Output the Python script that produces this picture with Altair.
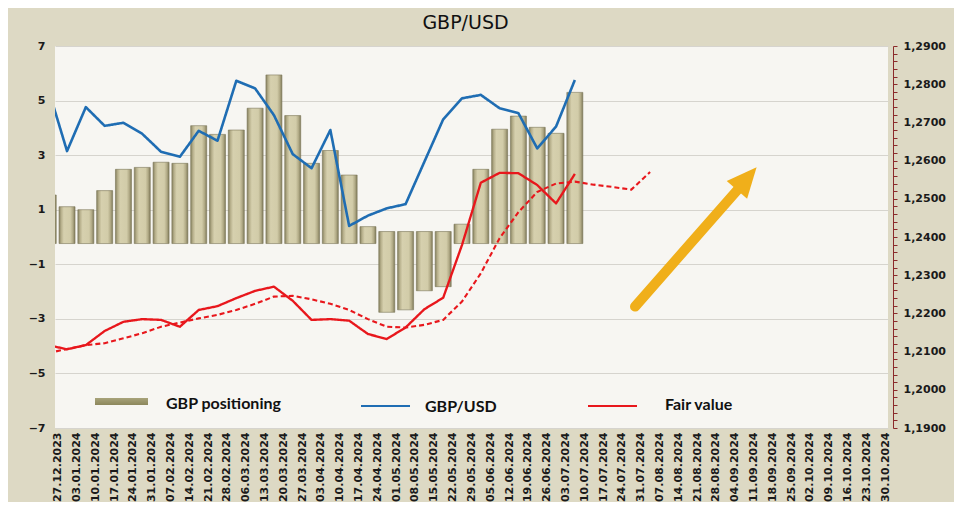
import json
import altair as alt
import pandas as pd

# ---------------- data ----------------
dates = ["27.12.2023", "03.01.2024", "10.01.2024", "17.01.2024", "24.01.2024", "31.01.2024",
         "07.02.2024", "14.02.2024", "21.02.2024", "28.02.2024", "06.03.2024", "13.03.2024",
         "20.03.2024", "27.03.2024", "03.04.2024", "10.04.2024", "17.04.2024", "24.04.2024",
         "01.05.2024", "08.05.2024", "15.05.2024", "22.05.2024", "29.05.2024", "05.06.2024",
         "12.06.2024", "19.06.2024", "26.06.2024", "03.07.2024", "10.07.2024", "17.07.2024",
         "24.07.2024", "31.07.2024", "07.08.2024", "14.08.2024", "21.08.2024", "28.08.2024",
         "04.09.2024", "11.09.2024", "18.09.2024", "25.09.2024", "02.10.2024", "09.10.2024",
         "16.10.2024", "23.10.2024", "30.10.2024"]

positioning = [1.54, 1.11, 1.00, 1.70, 2.48, 2.55, 2.74, 2.70, 4.08, 3.76, 3.92, 4.72, 5.94,
               4.45, 2.70, 3.17, 2.27, 0.38, -2.76, -2.67, -1.97, -1.82, 0.47, 2.48, 3.95,
               4.43, 4.02, 3.80, 5.30]

gbpusd = [1.2788, 1.2625, 1.2740, 1.2691, 1.2699, 1.2670, 1.2623, 1.2610, 1.2678, 1.2652,
          1.2809, 1.2789, 1.2719, 1.2617, 1.2580, 1.2680, 1.2429, 1.2456, 1.2475, 1.2486,
          1.2597, 1.2708, 1.2763, 1.2772, 1.2737, 1.2724, 1.2632, 1.2689, 1.2811]

fair_value = [1.2117, 1.2106, 1.2117, 1.2154, 1.2178, 1.2185, 1.2183, 1.2165, 1.2209, 1.2219,
              1.2240, 1.2259, 1.2270, 1.2233, 1.2183, 1.2185, 1.2181, 1.2146, 1.2133, 1.2163,
              1.2211, 1.2241, 1.2379, 1.2542, 1.2568, 1.2567, 1.2536, 1.2488, 1.2565]

fair_value_trend = [1.2096, 1.2107, 1.2117, 1.2122, 1.2135, 1.2148, 1.2165, 1.2176, 1.2187,
                    1.2196, 1.2209, 1.2225, 1.2244, 1.2246, 1.2237, 1.2225, 1.2209, 1.2185,
                    1.2165, 1.2163, 1.2170, 1.2183, 1.2231, 1.2305, 1.2397, 1.2465, 1.2518,
                    1.2540, 1.2545, 1.2537, 1.2531, 1.2524, 1.2570]

left_ticks = [-7, -5, -3, -1, 1, 3, 5, 7]
right_ticks = [1.19, 1.20, 1.21, 1.22, 1.23, 1.24, 1.25, 1.26, 1.27, 1.28, 1.29]
right_minor_step = 0.002

# annotation arrow (category index / left-axis value)
arrow_x = [31.2, 36.83]
arrow_y = [-2.55, 1.87]
arrow_head = [37.14, 2.14]

legend_labels = ["GBP positioning", "GBP/USD", "Fair value"]
title_text = "GBP/USD"

# ---------------- tables ----------------
bars_df = pd.DataFrame({"k": list(range(len(positioning))), "value": positioning})

series_names = ["GBP/USD", "Fair value", "Fair value trend"]
rows = []
for name, vals in zip(series_names, [gbpusd, fair_value, fair_value_trend]):
    for i, v in enumerate(vals):
        rows.append({"series": name, "k": i, "price": v})
lines_df = pd.DataFrame(rows)

arrow_df = pd.DataFrame({"k": [arrow_x[0]], "k2": [arrow_x[1]],
                         "y1": [arrow_y[0]], "y2": [arrow_y[1]]})
head_df = pd.DataFrame({"k": [arrow_head[0]], "y": [arrow_head[1]]})

n_minor = int(round((right_ticks[-1] - right_ticks[0]) / right_minor_step))
right_tick_values = [round(right_ticks[0] + right_minor_step * i, 4) for i in range(n_minor + 1)]

# ---------------- styling ----------------
BG = "#DDD9C4"
PLOT_BG = "#F7F6F2"
AXIS_FONT = "DejaVu Sans"
LEG_FONT = "Lato"

W, H = 833, 382

xscale = alt.Scale(domain=[0.36, 44.65], nice=False, zero=False, padding=0)
x_axis = alt.Axis(
    values=[i + 0.5 for i in range(len(dates))],
    labelExpr=json.dumps(dates) + "[floor(datum.value)]",
    labelAngle=270, labelAlign="right", labelBaseline="middle",
    labelFont=AXIS_FONT, labelFontSize=11, labelFontWeight="bold", labelColor="#1a1a1a",
    labelPadding=4, ticks=False, domain=False, grid=False, title=None, labelOverlap=False,
)
X = alt.X("k:Q", scale=xscale, axis=x_axis, title=None)

left_scale = alt.Scale(domain=[-7, 7], nice=False, zero=False)
left_axis = alt.Axis(
    values=left_ticks, labelFont=AXIS_FONT, labelFontSize=11, labelFontWeight="bold",
    labelColor="#1a1a1a", labelPadding=10, ticks=False, domain=False,
    grid=True, gridColor="#D6D4CE", gridWidth=1, title=None,
)

bar_grad = alt.Gradient(
    gradient="linear",
    stops=[
        alt.GradientStop(color="#86815F", offset=0),
        alt.GradientStop(color="#B7B08C", offset=0.14),
        alt.GradientStop(color="#D6D0AE", offset=0.3),
        alt.GradientStop(color="#D2CCA9", offset=0.7),
        alt.GradientStop(color="#B2AB87", offset=0.86),
        alt.GradientStop(color="#807B5A", offset=1),
    ],
    x1=0, x2=1, y1=0, y2=0,
)

bars = alt.Chart(bars_df).transform_calculate(
    base="datum.value > 0 ? -0.24 : 0.2"
).mark_bar(width=16, fill=bar_grad, stroke="#7A7658", strokeWidth=0.6, clip=True).encode(
    x=X,
    y=alt.Y("value:Q", scale=left_scale, axis=left_axis, title=None),
    y2="base:Q",
)

right_axis = alt.Axis(
    orient="right", values=right_tick_values,
    labelExpr=("abs(datum.value * 100 - round(datum.value * 100)) < 0.01 ? "
               "replace(format(datum.value, '.4f'), '.', ',') : ''"),
    labelFont=AXIS_FONT, labelFontSize=11, labelFontWeight="bold", labelColor="#1a1a1a",
    labelPadding=6, tickSize=4, tickColor="#8B2A2A", domain=True, domainColor="#8B2A2A",
    offset=5, grid=False, title=None, labelOverlap=False,
)

lines = alt.Chart(lines_df).mark_line(clip=True, strokeJoin="round").encode(
    x=X,
    y=alt.Y("price:Q", scale=alt.Scale(domain=[1.19, 1.29], nice=False, zero=False),
            axis=right_axis, title=None),
    color=alt.Color("series:N", scale=alt.Scale(domain=series_names,
                    range=["#1F6DB3", "#E8171C", "#E8171C"]), legend=None),
    strokeDash=alt.StrokeDash("series:N", scale=alt.Scale(domain=series_names,
                              range=[[1, 0], [1, 0], [5, 3]]), legend=None),
    strokeWidth=alt.StrokeWidth("series:N", scale=alt.Scale(domain=series_names,
                                range=[2.6, 2.1, 2.0]), legend=None),
    detail="series:N",
)

arrow_scale = alt.Scale(domain=[-7, 7], nice=False, zero=False)
arrow_shaft = alt.Chart(arrow_df).mark_rule(
    color="#F0AF1A", strokeWidth=10, strokeCap="round"
).encode(
    x=X, x2="k2:Q",
    y=alt.Y("y1:Q", scale=arrow_scale, axis=None), y2="y2:Q",
)
arrow_tip = alt.Chart(head_df).mark_point(
    shape="M0,-1L0.9,1L-0.9,1Z", size=900, angle=41, filled=True,
    fill="#F0AF1A", opacity=1, strokeWidth=0,
).encode(
    x=X,
    y=alt.Y("y:Q", scale=arrow_scale, axis=None),
)
arrow = alt.layer(arrow_shaft, arrow_tip)

# ---------------- legend & title (text) ----------------
one = pd.DataFrame({"t": [0]})

swatch_grad = alt.Gradient(
    gradient="linear",
    stops=[alt.GradientStop(color="#A8A37A", offset=0),
           alt.GradientStop(color="#8C875C", offset=1)],
    x1=0, x2=0, y1=0, y2=1,
)
leg_swatch = alt.Chart(one).mark_rect(fill=swatch_grad).encode(
    x=alt.value(40), x2=alt.value(93), y=alt.value(352), y2=alt.value(359))
leg_blue = alt.Chart(one).mark_rule(color="#1F6DB3", strokeWidth=2).encode(
    x=alt.value(306), x2=alt.value(355), y=alt.value(360))
leg_red = alt.Chart(one).mark_rule(color="#E8171C", strokeWidth=2).encode(
    x=alt.value(533), x2=alt.value(582), y=alt.value(360))

def leg_text(label, x, y):
    return alt.Chart(pd.DataFrame({"label": [label]})).mark_text(
        align="left", baseline="middle", font=LEG_FONT, fontSize=16,
        fontWeight="bold", color="#111111",
    ).encode(x=alt.value(x), y=alt.value(y), text="label:N")

leg_t1 = leg_text(legend_labels[0], 111, 358)
leg_t2 = leg_text(legend_labels[1], 370, 361)
leg_t3 = leg_text(legend_labels[2], 610, 359)

title = alt.Chart(pd.DataFrame({"label": [title_text]})).mark_text(
    align="center", baseline="middle", font=AXIS_FONT, fontSize=19, color="#111111",
).encode(x=alt.value(W / 2 - 6), y=alt.value(-23), text="label:N")

chart = alt.layer(
    bars, lines, arrow, leg_swatch, leg_blue, leg_red, leg_t1, leg_t2, leg_t3, title
).resolve_scale(y="independent").properties(
    width=W, height=H,
    padding={"left": 47, "top": 38, "right": 66, "bottom": 74},
    autosize=alt.AutoSizeParams(type="none"),
    background=BG,
).configure_view(fill=PLOT_BG, stroke=None)

chart.save("out.html", embed_options={"renderer": "svg", "actions": False})
